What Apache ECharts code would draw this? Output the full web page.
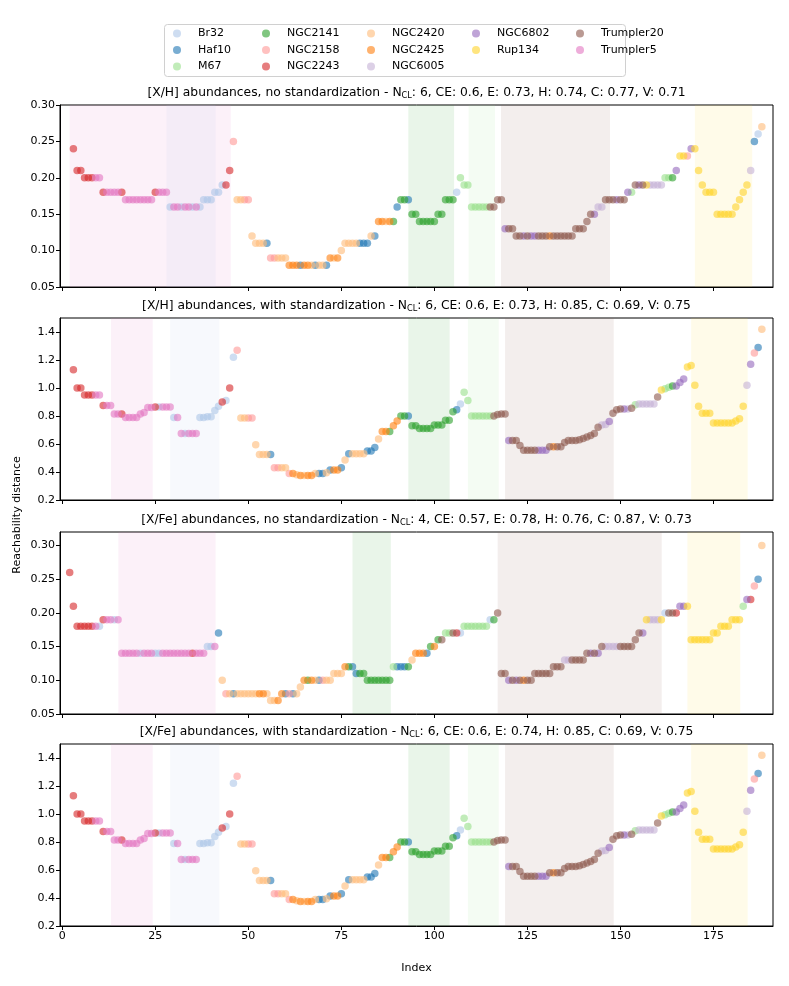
<!DOCTYPE html>
<html>
<head>
<meta charset="utf-8">
<script src="https://cdn.jsdelivr.net/npm/echarts@6/dist/echarts.min.js"></script>
<style>
html, body { margin: 0; padding: 0; background: #fff; }
#chart { width: 789px; height: 986px; }
</style>
</head>
<body>
<div id="chart"></div>
<script>
// cluster codes used in the per-point strings below
var clusterCodes = ['a', 'b', 'm', 'g', 's', 'r', 'l', 'o', 'v', 'p', 'y', 't', 'k']
var clusterNames = ['Br32', 'Haf10', 'M67', 'NGC2141', 'NGC2158', 'NGC2243', 'NGC2420', 'NGC2425', 'NGC6005', 'NGC6802', 'Rup134', 'Trumpler20', 'Trumpler5']
var clusterColors = ['#aec7e8', '#1f77b4', '#98df8a', '#2ca02c', '#ff9896', '#d62728', '#ffbb78', '#ff7f0e', '#c5b0d5', '#9467bd', '#ffd42a', '#8c564b', '#e377c2']

var xTicks = [0, 25, 50, 75, 100, 125, 150, 175]
var yTicksSmall = [0.05, 0.10, 0.15, 0.20, 0.25, 0.30]
var yTicksStd = [0.2, 0.4, 0.6, 0.8, 1.0, 1.2, 1.4]

var panelTitles = [
    '[X/H] abundances, no standardization - N{sub|CL}: 6, CE: 0.6, E: 0.73, H: 0.74, C: 0.77, V: 0.71',
    '[X/H] abundances, with standardization - N{sub|CL}: 6, CE: 0.6, E: 0.73, H: 0.85, C: 0.69, V: 0.75',
    '[X/Fe] abundances, no standardization - N{sub|CL}: 4, CE: 0.57, E: 0.78, H: 0.76, C: 0.87, V: 0.73',
    '[X/Fe] abundances, with standardization - N{sub|CL}: 6, CE: 0.6, E: 0.74, H: 0.85, C: 0.69, V: 0.75'
]

// panel 1: [X/H], no standardization (first index 3)
var p1Start = 3
var p1Values = [
    0.24, 0.21, 0.21, 0.20, 0.20, 0.20, 0.20, 0.20,
    0.18, 0.18, 0.18, 0.18, 0.18, 0.18,
    0.17, 0.17, 0.17, 0.17, 0.17, 0.17, 0.17, 0.17,
    0.18, 0.18, 0.18, 0.18,
    0.16, 0.16, 0.16, 0.16, 0.16, 0.16, 0.16, 0.16, 0.16,
    0.17, 0.17, 0.17, 0.18, 0.18, 0.19, 0.19, 0.21, 0.25,
    0.17, 0.17, 0.17, 0.17, 0.12, 0.11, 0.11, 0.11, 0.11,
    0.09, 0.09, 0.09, 0.09, 0.09,
    0.08, 0.08, 0.08, 0.08, 0.08, 0.08, 0.08, 0.08, 0.08, 0.08, 0.08,
    0.09, 0.09, 0.09, 0.10,
    0.11, 0.11, 0.11, 0.11, 0.11, 0.11, 0.11, 0.12, 0.12,
    0.14, 0.14, 0.14, 0.14, 0.14, 0.16, 0.17, 0.17, 0.17,
    0.15, 0.15, 0.14, 0.14, 0.14, 0.14, 0.14, 0.15, 0.15,
    0.17, 0.17, 0.17, 0.18, 0.20, 0.19, 0.19,
    0.16, 0.16, 0.16, 0.16, 0.16, 0.16, 0.16, 0.17, 0.17,
    0.13, 0.13, 0.13,
    0.12, 0.12, 0.12, 0.12, 0.12, 0.12, 0.12, 0.12, 0.12, 0.12, 0.12, 0.12, 0.12, 0.12, 0.12, 0.12,
    0.13, 0.13, 0.13, 0.14, 0.15, 0.15, 0.16, 0.16,
    0.17, 0.17, 0.17, 0.17, 0.17, 0.17, 0.18, 0.18,
    0.19, 0.19, 0.19, 0.19, 0.19, 0.19, 0.19, 0.19,
    0.20, 0.20, 0.20, 0.21, 0.23, 0.23, 0.23, 0.24, 0.24,
    0.21, 0.19, 0.18, 0.18, 0.18,
    0.15, 0.15, 0.15, 0.15, 0.15, 0.16, 0.17, 0.18, 0.19,
    0.21, 0.25, 0.26, 0.27
]
var p1Clusters = 'rrrrrr kk r kkkk r kkkkkkkk r kkk akkakkaka aaaaaa rr s ll ss llll b ss lll ooo b oo l b ll b o l o lllll bbb l b oo l o g b gg b gggggggggggg a mmmmmmmm tttt p tttt p t pp ttt o ttttttttttt p vv ttt p tt p m t p t y vvvv mm g p yy s p yyyyyyyyyyyyyyy v b a l'
var p1Spans = [['k', 2, 45.3], ['a', 28, 41.2], ['g', 93, 105.3], ['m', 109.2, 116.3], ['t', 117.9, 147.2], ['y', 170, 185.4]]

// panel 2 (and 4): with standardization (first index 3)
var p2Start = 3
var p2Values = [
    1.13, 1.00, 1.00, 0.95, 0.95, 0.95, 0.95, 0.95,
    0.875, 0.875, 0.875, 0.815, 0.815, 0.815,
    0.79, 0.79, 0.79, 0.79, 0.815, 0.825, 0.86, 0.86,
    0.865, 0.865, 0.865, 0.865, 0.865,
    0.79, 0.79, 0.675, 0.675, 0.675, 0.675, 0.675,
    0.79, 0.79, 0.795, 0.795, 0.84, 0.87, 0.90, 0.91, 1.00, 1.22, 1.27,
    0.785, 0.785, 0.785, 0.785, 0.595, 0.525, 0.525, 0.525, 0.525,
    0.43, 0.43, 0.43, 0.43, 0.39, 0.39, 0.38, 0.375, 0.375, 0.375, 0.375,
    0.39, 0.39, 0.39, 0.395, 0.415, 0.415, 0.415, 0.43, 0.485,
    0.53, 0.53, 0.53, 0.53, 0.53, 0.55, 0.55, 0.575, 0.635,
    0.69, 0.69, 0.69, 0.73, 0.765, 0.80, 0.80, 0.80,
    0.73, 0.73, 0.71, 0.71, 0.71, 0.71, 0.735, 0.735, 0.735, 0.77, 0.77,
    0.83, 0.845, 0.885, 0.97, 0.91,
    0.80, 0.80, 0.80, 0.80, 0.80, 0.80, 0.80, 0.81, 0.815, 0.815,
    0.625, 0.625, 0.625, 0.59,
    0.555, 0.555, 0.555, 0.555, 0.555, 0.555, 0.555,
    0.58, 0.58, 0.58, 0.58, 0.61, 0.625, 0.625, 0.625,
    0.63, 0.64, 0.65, 0.66, 0.675, 0.72, 0.735, 0.74, 0.76,
    0.82, 0.845, 0.85, 0.85, 0.85, 0.855, 0.88,
    0.885, 0.885, 0.885, 0.885, 0.885, 0.935, 0.985, 0.995, 1.005,
    1.015, 1.015, 1.04, 1.065, 1.15, 1.16, 1.02, 0.87,
    0.82, 0.82, 0.82, 0.75, 0.75, 0.75, 0.75, 0.75, 0.75,
    0.765, 0.78, 0.87, 1.02, 1.17, 1.25, 1.29, 1.42
]
var p2Clusters = 'rrrrrr kk r kkkk r kkkkkkkk r a kkk a kk a kkk aaaaaa r a r a s ll ss llll b ss ll s o l o l oo l bb l b oo b l b llll bbb l oo g oo gg b gggggggggggg b a mmmmmmmm tttt p ttttttt ppp t o tttttttttttt vv p ttt p v t m vvvvv t y mm g ppp yyyyyyyyyyyyyyyy v p s b l'
var p2Spans = [['k', 13.1, 24.3], ['a', 29, 42.2], ['g', 93, 104.1], ['m', 109, 117.3], ['t', 119, 148.2], ['y', 169, 184.2]]

// panel 3: [X/Fe], no standardization (first index 2)
var p3Start = 2
var p3Values = [
    0.26, 0.21, 0.18, 0.18, 0.18, 0.18, 0.18, 0.18, 0.18,
    0.19, 0.19, 0.19, 0.19, 0.19,
    0.14, 0.14, 0.14, 0.14, 0.14, 0.14, 0.14, 0.14, 0.14, 0.14, 0.14, 0.14,
    0.14, 0.14, 0.14, 0.14, 0.14, 0.14, 0.14, 0.14, 0.14, 0.14, 0.14,
    0.15, 0.15, 0.15, 0.17, 0.10,
    0.08, 0.08, 0.08, 0.08, 0.08, 0.08, 0.08, 0.08, 0.08, 0.08, 0.08, 0.08,
    0.07, 0.07, 0.07,
    0.08, 0.08, 0.08, 0.08, 0.08, 0.09,
    0.10, 0.10, 0.10, 0.10, 0.10, 0.10, 0.10, 0.10,
    0.11, 0.11, 0.11, 0.12, 0.12, 0.12, 0.11, 0.11, 0.11,
    0.10, 0.10, 0.10, 0.10, 0.10, 0.10, 0.10,
    0.12, 0.12, 0.12, 0.12, 0.12, 0.13, 0.14, 0.14, 0.14, 0.14,
    0.15, 0.15, 0.16, 0.16, 0.17, 0.17, 0.17, 0.17, 0.17,
    0.18, 0.18, 0.18, 0.18, 0.18, 0.18, 0.18,
    0.19, 0.19, 0.20, 0.11, 0.11,
    0.10, 0.10, 0.10, 0.10, 0.10, 0.10, 0.10,
    0.11, 0.11, 0.11, 0.11, 0.11, 0.12, 0.12, 0.12,
    0.13, 0.13, 0.13, 0.13, 0.13, 0.13,
    0.14, 0.14, 0.14, 0.14,
    0.15, 0.15, 0.15, 0.15, 0.15, 0.15, 0.15, 0.15, 0.15,
    0.16, 0.17, 0.17, 0.19, 0.19, 0.19, 0.19, 0.19,
    0.20, 0.20, 0.20, 0.20, 0.21, 0.21, 0.21,
    0.16, 0.16, 0.16, 0.16, 0.16, 0.16,
    0.17, 0.17, 0.18, 0.18, 0.18, 0.19, 0.19, 0.19,
    0.21, 0.22, 0.22, 0.24, 0.25, 0.30
]
var p3Clusters = 'rrrrrrr k a r kk a kkkkkk a kkk aa kkkkkkkk r kkk aa k b l s l b llllll oo lll oo b s b ll o g o l b s lllll o g bb ggggggggg m bbb g l ooo b g o g t mm t r a mmmmmmm a g ttt p t p t o tttttttttt vv ttttt p t p t vvvv tttttt p y vvv y a tt r pp yyyyyyyyyyyyyyy m p r s b l'
var p3Spans = [['k', 15.1, 41.2], ['g', 78, 88.3], ['t', 117, 161.1], ['y', 168, 182.2]]

var font = 'DejaVu Sans'
var gridTops = [105, 318, 532, 744]
var gridH = 182
var gridLeft = 60
var gridW = 713

function colorOf(code) {
    return clusterColors[clusterCodes.indexOf(code)]
}

function panelSeries(gi, start, values, codeStr, spans) {
    var codes = codeStr.replace(/ /g, '').split('')
    var n = Math.min(values.length, codes.length)
    var out = []
    // shaded cluster ranges
    out.push({
        type: 'scatter', xAxisIndex: gi, yAxisIndex: gi, data: [], silent: true, z: 1,
        markArea: {
            silent: true,
            data: spans.map(function(s) {
                return [{ xAxis: s[1], itemStyle: { color: colorOf(s[0]), opacity: 0.1, borderWidth: 0 } }, { xAxis: s[2] }]
            })
        }
    })
    clusterCodes.forEach(function(code, ci) {
        var pts = []
        for (var i = 0; i < n; i++) {
            if (codes[i] === code) pts.push([start + i, values[i]])
        }
        out.push({
            name: clusterNames[ci], type: 'scatter', xAxisIndex: gi, yAxisIndex: gi,
            data: pts, symbolSize: 7.5, z: 2,
            itemStyle: { color: clusterColors[ci], opacity: 0.6 },
            emphasis: { disabled: true }
        })
    })
    return out
}

function xAxisFor(gi, showLabels) {
    return {
        gridIndex: gi, type: 'value', min: -0.6, max: 191,
        splitLine: { show: false },
        axisLine: { show: true, onZero: false, lineStyle: { color: '#000', width: 1 } },
        axisTick: { show: true, length: 4, lineStyle: { color: '#000' }, customValues: xTicks },
        axisLabel: { show: showLabels, customValues: xTicks, color: '#000', fontSize: 11, fontFamily: font, margin: 5 }
    }
}

function yAxisFor(gi, min, max, ticks, digits) {
    return {
        gridIndex: gi, type: 'value', min: min, max: max,
        splitLine: { show: false },
        axisLine: { show: true, onZero: false, lineStyle: { color: '#000', width: 1 } },
        axisTick: { show: true, length: 4, lineStyle: { color: '#000' }, customValues: ticks },
        axisLabel: {
            customValues: ticks, color: '#000', fontSize: 11, fontFamily: font, margin: 5,
            formatter: function(v) { return v.toFixed(digits) }
        }
    }
}

var legendCols = [
    ['Br32', 'Haf10', 'M67'],
    ['NGC2141', 'NGC2158', 'NGC2243'],
    ['NGC2420', 'NGC2425', 'NGC6005'],
    ['NGC6802', 'Rup134'],
    ['Trumpler20', 'Trumpler5']
]
var legendLefts = [173, 262, 367, 472, 576]

var series = []
    .concat(panelSeries(0, p1Start, p1Values, p1Clusters, p1Spans))
    .concat(panelSeries(1, p2Start, p2Values, p2Clusters, p2Spans))
    .concat(panelSeries(2, p3Start, p3Values, p3Clusters, p3Spans))
    .concat(panelSeries(3, p2Start, p2Values, p2Clusters, p2Spans))

var graphics = [{
    type: 'rect', z: -1,
    shape: { x: 164.5, y: 24.5, width: 461, height: 52, r: 3 },
    style: { fill: '#fff', stroke: '#d0d0d0', lineWidth: 1 }
}, {
    type: 'text', x: 17, y: 515, rotation: Math.PI / 2,
    style: { text: 'Reachability distance', fontSize: 11, fontFamily: font, fill: '#000', align: 'center', verticalAlign: 'middle', textAlign: 'center', textVerticalAlign: 'middle' }
}, {
    type: 'text', x: gridLeft + gridW / 2, y: 968,
    style: { text: 'Index', fontSize: 11, fontFamily: font, fill: '#000', align: 'center', verticalAlign: 'middle', textAlign: 'center', textVerticalAlign: 'middle' }
}]
panelTitles.forEach(function(t, i) {
    graphics.push({
        type: 'text', x: gridLeft + gridW / 2, y: gridTops[i] - 12.5,
        style: {
            text: t, fontSize: 12.3, fontFamily: font, fill: '#000',
            align: 'center', verticalAlign: 'middle', textAlign: 'center', textVerticalAlign: 'middle',
            rich: { sub: { fontSize: 8.2, fontFamily: font, fill: '#000', lineHeight: 8, padding: [6, 0, 0, 0] } }
        }
    })
})

var myChart = echarts.init(document.getElementById('chart'))
var option = {
    animation: false,
    backgroundColor: '#fff',
    textStyle: { fontFamily: font },
    grid: gridTops.map(function(top) {
        return { left: gridLeft, top: top, width: gridW, height: gridH, show: true, borderColor: '#000', borderWidth: 1, backgroundColor: 'transparent', containLabel: false, outerBoundsMode: 'none' }
    }),
    xAxis: [xAxisFor(0, false), xAxisFor(1, false), xAxisFor(2, false), xAxisFor(3, true)],
    yAxis: [
        yAxisFor(0, 0.05, 0.30, yTicksSmall, 2),
        yAxisFor(1, 0.2, 1.5, yTicksStd, 1),
        yAxisFor(2, 0.05, 0.32, yTicksSmall, 2),
        yAxisFor(3, 0.2, 1.5, yTicksStd, 1)
    ],
    legend: legendCols.map(function(col, i) {
        return {
            orient: 'vertical', left: legendLefts[i], top: 28, data: col,
            icon: 'circle', itemWidth: 32, itemHeight: 8, itemGap: 5.5,
            selectedMode: false, padding: 0,
            textStyle: { fontSize: 11, fontFamily: font, color: '#000' }
        }
    }),
    graphic: graphics,
    series: series
}
myChart.setOption(option)
</script>
</body>
</html>
